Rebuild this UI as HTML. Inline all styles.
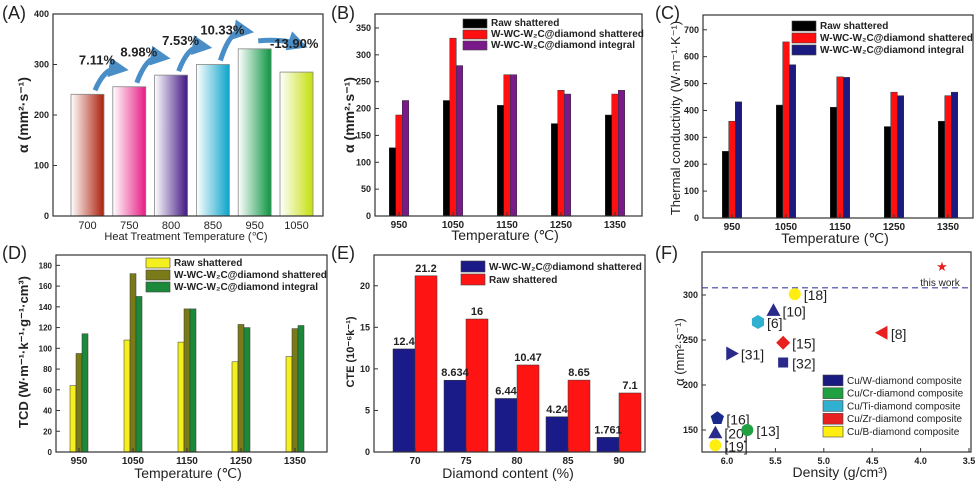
<!DOCTYPE html>
<html><head><meta charset="utf-8"><style>
body{margin:0;background:#fff;}
svg{display:block;font-family:"Liberation Sans",Arial,sans-serif;}
text{fill:#222;}
</style></head><body>
<svg id="fig" width="978" height="481" viewBox="0 0 978 481">
<defs>
<marker id="ah" markerWidth="4" markerHeight="4" refX="2" refY="2" orient="auto"><path d="M0,0 L4,2 L0,4 Z" fill="#4a8ec8"/></marker>
</defs>
</svg>
<script>
// Panel A
const aCats=["700","750","800","850","950","1050"];
const aVals=[241,256,279,300,331,285];
const aPct=["7.11%","8.98%","7.53%","10.33%","-13.90%"];
const aColors=["#b02a18","#e8268a","#4a2288","#18a8cc","#18994a","#c8e018"];
// Panel B
const bCats=["950","1050","1150","1250","1350"];
const bRaw=[127,215,206,172,188];
const bShat=[188,331,263,234,227];
const bInt=[215,280,263,227,234];
// Panel C
const cCats=["950","1050","1150","1250","1350"];
const cRaw=[248,420,412,340,360];
const cShat=[360,655,525,468,455];
const cInt=[432,570,523,455,468];
// Panel D
const dCats=["950","1050","1150","1250","1350"];
const dRaw=[64,108,106,87,92];
const dShat=[95,172,138,123,119];
const dInt=[114,150,138,120,122];
// Panel E
const eCats=["70","75","80","85","90"];
const eBlue=[12.4,8.634,6.44,4.24,1.761];
const eRed=[21.2,16,10.47,8.65,7.1];
const eBlueLbl=["12.4","8.634","6.44","4.24","1.761"];
const eRedLbl=["21.2","16","10.47","8.65","7.1"];
// Panel F
const fLabels=["[18]","[10]","[6]","[8]","[15]","[31]","[32]","[16]","[20]","[13]","[19]"];
const fDens=[5.3,5.52,5.68,4.4,5.42,5.95,5.42,6.1,6.12,5.79,6.12];
const fAlpha=[301,283,270,258,247,235,225,163,147,150,133];
const fShape=["circle","triUp","hex","triLeft","diamond","triRight","square","pent","triUp","circle","circle"];
const fColor=["#ffee10","#2a2a8a","#30b0d0","#e82020","#e82020","#2a2a8a","#2a2a8a","#1a2a8a","#2a2a8a","#20a040","#ffee10"];
const fStar=[3.78,332];
const fThresh=308;

const NS="http://www.w3.org/2000/svg";
const svg=document.getElementById('fig');
function mk(tag,attrs,parent){const e=document.createElementNS(NS,tag);for(const k in attrs)e.setAttribute(k,attrs[k]);(parent||svg).appendChild(e);return e;}
function txt(x,y,s,size,opts,parent){opts=opts||{};const t=mk('text',{x:x,y:y,'font-size':size,'text-anchor':opts.anchor||'middle','font-weight':opts.bold===false?'normal':'bold'},parent);if(opts.rot)t.setAttribute('transform','rotate(-90 '+x+' '+y+')');t.textContent=s;return t;}
function frame(x0,x1,y0,y1,name){const r=mk('rect',{x:x0,y:y0,width:x1-x0,height:y1-y0,fill:'none',stroke:'#333','stroke-width':1.2});}
function yTicks(x0,yScale,ticks,size){ticks.forEach(v=>{const y=yScale(v);mk('line',{x1:x0,x2:x0+4,y1:y,y2:y,stroke:'#333'});const t=txt(x0-4,y+3,String(v),size||9,{anchor:'end'});});}
function legend(x,y,dy,labels,colors,size,w,bold){labels.forEach((l,i)=>{const r=mk('rect',{x:x,y:y+i*dy,width:w||24,height:dy-2,fill:colors[i],stroke:'#444','stroke-width':0.6});const t=txt(x+(w||24)+4,y+i*dy+dy-4,l,size||10,{anchor:'start',bold:bold});});}
function panelLabel(x,y,s){const t=txt(x,y,s,18,{anchor:'start',bold:false});}

function groupBars(cats,series,colors,x0,x1,y0,y1,vmin,vmax,c0,step,bw,name){
  const ys=v=>y1-(v-vmin)/(vmax-vmin)*(y1-y0);
  const n=series.length;
  cats.forEach((c,i)=>{
    const cx=c0+i*step;
    series.forEach((s,j)=>{
      const x=cx-n*bw/2+j*bw;
      const r=mk('rect',{x:x,y:ys(s[i]),width:bw,height:ys(vmin)-ys(s[i]),fill:colors[j],stroke:'#333','stroke-width':0.5});
      
      
    });
    mk('line',{x1:cx,x2:cx,y1:y1,y2:y1-4,stroke:'#333'});
    const t=txt(cx,y1+12,c,10);
    
    
  });
  return ys;
}

// ---- Panel A ----
(function(){
  const x0=53,x1=323,y0=14,y1=216;
  const ys=v=>y1-v/400*(y1-y0);
  const defs=svg.querySelector('defs');
  aCats.forEach((c,i)=>{
    const g=mk('linearGradient',{id:'ga'+i,x1:0,x2:1,y1:0,y2:0},defs);
    mk('stop',{offset:'0','stop-color':'#fff'},g);
    mk('stop',{offset:'0.95','stop-color':aColors[i]},g);
    const x=71+i*41.8;
    const r=mk('rect',{x:x,y:ys(aVals[i]),width:33,height:ys(0)-ys(aVals[i]),fill:'url(#ga'+i+')',stroke:'#888','stroke-width':0.8});
    
    
    const t=txt(x+16.5,y1+13,c,11,{bold:false});
    
    
    if(i<aCats.length-1){
      const xa=x+24,ya=ys(aVals[i])-4,xb=x+41.8+6,yb=ys(aVals[i+1])-18;
      const p=mk('path',{d:'M'+xa+','+ya+' Q'+(xa+10)+','+(yb-2)+' '+xb+','+yb,fill:'none',stroke:'#4a8ec8','stroke-width':5,'marker-end':'url(#ah)'});
      if(i===4)p.setAttribute('d','M'+(x+20)+','+(ys(aVals[i])-8)+' Q'+(x+45)+','+(ys(aVals[i])-10)+' '+(x+60)+','+(ys(aVals[i+1])-28));
      
      
      const tx=i===4?x+56:x+26, ty=i===4?48:ys(aVals[i])-30;
      const t2=txt(tx,ty,aPct[i],13);
      
      
    }
  });
  frame(x0,x1,y0,y1,'plot-area-a');
  yTicks(x0,ys,[0,100,200,300,400],9);
  let t=txt(186,240,'Heat Treatment Temperature (℃)',11,{bold:false});
  t=txt(28,115,'α (mm²·s⁻¹)',14,{rot:true});
  panelLabel(2,19,'(A)');
})();

// ---- Panel B ----
(function(){
  const x0=375,x1=642,y0=14,y1=216;
  const ys=groupBars(bCats,[bRaw,bShat,bInt],['#000','#ff1010','#7a1a8a'],x0,x1,y0,y1,0,376,399,54,6.5,'b');
  frame(x0,x1,y0,y1,'plot-area-b');
  yTicks(x0,ys,[0,50,100,150,200,250,300,350],9);
  legend(463,19,11,['Raw shattered','W-WC-W₂C@diamond shattered','W-WC-W₂C@diamond integral'],['#000','#ff1010','#7a1a8a'],10);
  let t=txt(505,240,'Temperature (℃)',14,{bold:false});
  t=txt(354,115,'α (mm²·s⁻¹)',14,{rot:true});
  panelLabel(331,19,'(B)');
})();

// ---- Panel C ----
(function(){
  const x0=703,x1=973,y0=15,y1=218;
  const ys=groupBars(cCats,[cRaw,cShat,cInt],['#000','#ff1010','#1a1a80'],x0,x1,y0,y1,0,755,732,54,6.5,'c');
  frame(x0,x1,y0,y1,'plot-area-c');
  yTicks(x0,ys,[0,100,200,300,400,500,600,700],9);
  legend(792,21,12,['Raw shattered','W-WC-W₂C@diamond shattered','W-WC-W₂C@diamond integral'],['#000','#ff1010','#1a1a80'],10);
  let t=txt(835,243,'Temperature (℃)',14,{bold:false});
  t=txt(680,118,'Thermal conductivity (W·m⁻¹·K⁻¹)',13,{rot:true,bold:false});
  panelLabel(655,19,'(C)');
})();

// ---- Panel D ----
(function(){
  const x0=56,x1=327,y0=255,y1=452;
  const ys=groupBars(dCats,[dRaw,dShat,dInt],['#f4f020','#7a7a18','#1a8a3a'],x0,x1,y0,y1,0,190,79,54,6,'d');
  frame(x0,x1,y0,y1,'plot-area-d');
  yTicks(x0,ys,[0,20,40,60,80,100,120,140,160,180],8);
  legend(146,258,12,['Raw shattered','W-WC-W₂C@diamond shattered','W-WC-W₂C@diamond integral'],['#f4f020','#7a7a18','#1a8a3a'],10);
  let t=txt(188,478,'Temperature (℃)',14,{bold:false});
  t=txt(28,352,'TCD (W·m⁻¹·k⁻¹·g⁻¹·cm³)',13,{rot:true});
  panelLabel(2,259,'(D)');
})();

// ---- Panel E ----
(function(){
  const x0=374,x1=645,y0=255,y1=452;
  const ys=groupBars(eCats,[eBlue,eRed],['#1a1a88','#ff1414'],x0,x1,y0,y1,0,23.7,415,51,22,'e');
  eCats.forEach((c,i)=>{
    const cx=415+i*51;
    let t=txt(cx-11,ys(eBlue[i])-4,eBlueLbl[i],11);
    t=txt(cx+11,ys(eRed[i])-4,eRedLbl[i],11);
  });
  frame(x0,x1,y0,y1,'plot-area-e');
  yTicks(x0,ys,[0,5,10,15,20],9);
  legend(461,261,13,['W-WC-W₂C@diamond shattered','Raw shattered'],['#1a1a88','#ff1414'],10,24);
  let t=txt(508,478,'Diamond content (%)',14,{bold:false});
  t=txt(354,352,'CTE (10⁻⁶k⁻¹)',11,{rot:true});
  panelLabel(331,259,'(E)');
})();

// ---- Panel F ----
(function(){
  const x0=702,x1=971,y0=252,y1=452;
  const xs=d=>727+(6.0-d)/0.5*48.4;
  const ys=v=>295-(v-300)/50*45;
  frame(x0,x1,y0,y1,'plot-area-f');
  [6.0,5.5,5.0,4.5,4.0,3.5].forEach(d=>{const x=xs(d);mk('line',{x1:x,x2:x,y1:y1,y2:y1-4,stroke:'#333'});const t=txt(x,y1+12,d.toFixed(1),9);});
  yTicks(x0,ys,[150,200,250,300],9);
  const dl=mk('line',{x1:x0,x2:x1,y1:ys(fThresh),y2:ys(fThresh),stroke:'#4040a0','stroke-width':1.2,'stroke-dasharray':'6,4'});
  
  function shape(s,x,y,c){const r=7;let e;
    if(s==='circle')e=mk('circle',{cx:x,cy:y,r:r-1});
    else if(s==='square')e=mk('rect',{x:x-5,y:y-5,width:10,height:10});
    else{let pts;
      if(s==='triUp')pts=[[0,-r],[r,r*0.8],[-r,r*0.8]];
      else if(s==='triLeft')pts=[[-r,0],[r*0.8,-r],[r*0.8,r]];
      else if(s==='triRight')pts=[[r,0],[-r*0.8,-r],[-r*0.8,r]];
      else if(s==='diamond')pts=[[0,-r],[r,0],[0,r],[-r,0]];
      else{const k=s==='hex'?6:5;pts=[];for(let i=0;i<k;i++){const a=-Math.PI/2+i*2*Math.PI/k;pts.push([r*Math.cos(a),r*Math.sin(a)]);}}
      e=mk('polygon',{points:pts.map(p=>(x+p[0])+','+(y+p[1])).join(' ')});}
    e.setAttribute('fill',c);return e;}
  fLabels.forEach((l,i)=>{
    const x=xs(fDens[i]),y=ys(fAlpha[i]);
    const m=shape(fShape[i],x,y,fColor[i]);
    
    
    const t=txt(x+9,y+6,l,14,{anchor:'start',bold:false});
    
    
  });
  const sx=xs(fStar[0]),sy=ys(fStar[1]);
  const st=txt(sx,sy+5,'★',13,{bold:false});st.style.fill='#e82020';
  
  let t=txt(940,286,'this work',10,{bold:false});
  legend(823,375,12.8,['Cu/W-diamond  composite','Cu/Cr-diamond  composite','Cu/Ti-diamond  composite','Cu/Zr-diamond  composite','Cu/B-diamond  composite'],['#1a1a80','#20a040','#30b0d0','#e82020','#ffee10'],10,20,false);
  t=txt(840,477,'Density  (g/cm³)',14,{bold:false});
  t=txt(684,352,'α (mm²·s⁻¹)',13,{rot:true,bold:false});
  panelLabel(655,259,'(F)');
})();
</script>
</body></html>
